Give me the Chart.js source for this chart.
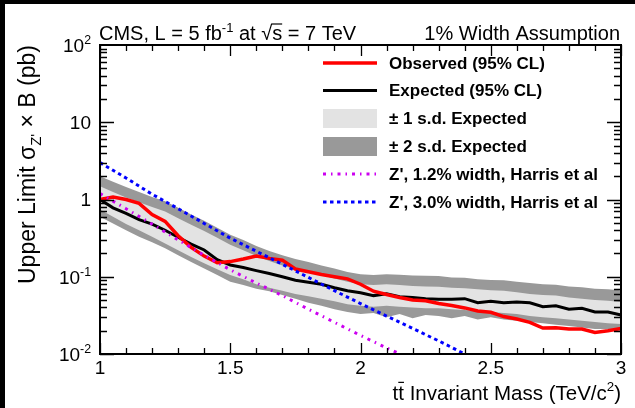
<!DOCTYPE html>
<html>
<head>
<meta charset="utf-8">
<script src="https://cdn.jsdelivr.net/npm/chart.js@4.4.1/dist/chart.umd.min.js"></script>
<style>
  html, body { margin: 0; padding: 0; background: #fff; }
  canvas { display: block; }
</style>
</head>
<body>
<canvas id="c" width="635" height="408"></canvas>
<script>
// Resonance mass points (TeV/c^2)
const massPoints = [1.00, 1.05, 1.10, 1.15, 1.20, 1.25, 1.30, 1.35, 1.40, 1.45,
                    1.50, 1.55, 1.60, 1.65, 1.70, 1.75, 1.80, 1.85, 1.90, 1.95,
                    2.00, 2.05, 2.10, 2.15, 2.20, 2.25, 2.30, 2.35, 2.40, 2.45,
                    2.50, 2.55, 2.60, 2.65, 2.70, 2.75, 2.80, 2.85, 2.90, 2.95, 3.00];

// 95% CL upper limits on sigma x B (pb)
const observed = [1.0, 1.08, 1.0, 0.89, 0.64, 0.52, 0.34, 0.24, 0.185, 0.152,
                  0.157, 0.17, 0.186, 0.173, 0.164, 0.126, 0.116, 0.107, 0.100, 0.094,
                  0.080, 0.065, 0.059, 0.054, 0.050, 0.049, 0.045, 0.0425, 0.0395, 0.036,
                  0.0347, 0.0305, 0.0284, 0.0257, 0.0217, 0.0219, 0.021, 0.021, 0.019, 0.020, 0.0214];
const expected = [1.0, 0.78, 0.66, 0.55, 0.48, 0.40, 0.325, 0.265, 0.222, 0.166,
                  0.142, 0.132, 0.120, 0.110, 0.100, 0.090, 0.085, 0.080, 0.072, 0.066,
                  0.062, 0.057, 0.060, 0.055, 0.054, 0.052, 0.051, 0.051, 0.052, 0.046,
                  0.048, 0.046, 0.047, 0.046, 0.041, 0.042, 0.038, 0.039, 0.035, 0.035, 0.032];

// Expected-limit bands
const plus2 = [2.0, 1.70, 1.45, 1.25, 1.08, 0.95, 0.78, 0.64, 0.53, 0.43,
               0.35, 0.30, 0.25, 0.215, 0.19, 0.17, 0.155, 0.14, 0.128, 0.115,
               0.108, 0.105, 0.108, 0.106, 0.104, 0.103, 0.102, 0.098, 0.097, 0.093,
               0.091, 0.090, 0.086, 0.083, 0.080, 0.079, 0.075, 0.073, 0.070, 0.069, 0.067];
const plus1 = [1.48, 1.25, 1.06, 0.92, 0.80, 0.70, 0.57, 0.47, 0.39, 0.32,
               0.26, 0.22, 0.185, 0.160, 0.14, 0.125, 0.115, 0.105, 0.095, 0.086,
               0.080, 0.078, 0.080, 0.078, 0.076, 0.075, 0.074, 0.072, 0.071, 0.069,
               0.067, 0.066, 0.063, 0.060, 0.058, 0.057, 0.054, 0.052, 0.050, 0.049, 0.047];
const minus1 = [0.74, 0.60, 0.48, 0.40, 0.33, 0.27, 0.22, 0.18, 0.15, 0.125,
                0.105, 0.093, 0.080, 0.072, 0.066, 0.060, 0.056, 0.052, 0.048, 0.044,
                0.042, 0.041, 0.042, 0.041, 0.040, 0.039, 0.039, 0.038, 0.037, 0.036,
                0.035, 0.034, 0.033, 0.031, 0.030, 0.029, 0.028, 0.027, 0.026, 0.025, 0.0245];
const minus2 = [0.60, 0.49, 0.40, 0.33, 0.28, 0.233, 0.19, 0.155, 0.128, 0.105,
                0.086, 0.078, 0.070, 0.065, 0.058, 0.052, 0.046, 0.042, 0.038, 0.035,
                0.033, 0.034, 0.030, 0.033, 0.029, 0.032, 0.031, 0.029, 0.031, 0.028,
                0.030, 0.028, 0.027, 0.026, 0.025, 0.024, 0.023, 0.022, 0.021, 0.021, 0.020];

// Theory curves (Harris et al)
const theoryMass = [1.0, 1.1, 1.2, 1.3, 1.4, 1.5, 1.6, 1.7, 1.8, 1.9, 2.0, 2.1, 2.2, 2.3, 2.4, 2.5];
const zprime12 = [1.19, 0.76, 0.48, 0.30, 0.19, 0.123, 0.083, 0.057, 0.038, 0.0257, 0.0174, 0.012, 0.0085, null, null, null];
const zprime30 = [3.0, 1.9, 1.17, 0.76, 0.49, 0.316, 0.214, 0.145, 0.098, 0.066, 0.045, 0.031, 0.0214, 0.0148, 0.0100, 0.0069];

// Axis ticks
const xMajorTicks = [1, 1.5, 2, 2.5, 3];
const xTickLabels = ['1', '1.5', '2', '2.5', '3'];
const yMajorTicks = [0.01, 0.1, 1, 10, 100];
const yTickLabels = [['10', '-2'], ['10', '-1'], ['1', ''], ['10', ''], ['10', '2']];

const legendLabels = ['Observed (95% CL)', 'Expected (95% CL)', '\u00b1 1 s.d. Expected',
                      '\u00b1 2 s.d. Expected', "Z', 1.2% width, Harris et al", "Z', 3.0% width, Harris et al"];

const COL_OBS = '#ff0000', COL_EXP = '#000000', COL_1SD = '#e3e3e3', COL_2SD = '#999999';
const COL_Z12 = '#cc00f0', COL_Z30 = '#0000ff';
const DASH_Z12 = [3, 5, 1.5, 5], DASH_Z30 = [3.5, 3.5];

const FAMILY = '"Liberation Sans", Arial, Helvetica, sans-serif';
const fontOf = (size, bold) => (bold ? 'bold ' : '') + size + 'px ' + FAMILY;

const pts = (xs, ys) => xs.map((x, i) => ({ x: x, y: ys[i] }));

// Text with superscripts, subscripts and overbars
function richWidth(ctx, parts, size, bold) {
  let w = 0;
  for (const p of parts) {
    ctx.font = fontOf((p.sup || p.sub) ? size * 0.65 : size, bold);
    w += ctx.measureText(p.t).width;
  }
  return w;
}
function richDraw(ctx, parts, x, y, size, bold, align) {
  const w = richWidth(ctx, parts, size, bold);
  let cx = align === 'right' ? x - w : (align === 'center' ? x - w / 2 : x);
  ctx.textAlign = 'left';
  ctx.textBaseline = 'alphabetic';
  ctx.fillStyle = '#000';
  for (const p of parts) {
    const s = (p.sup || p.sub) ? size * 0.65 : size;
    const dy = p.sup ? -size * 0.42 : (p.sub ? size * 0.25 : 0);
    ctx.font = fontOf(s, bold);
    ctx.fillText(p.t, cx, y + dy);
    const pw = ctx.measureText(p.t).width;
    if (p.over) {
      ctx.save();
      ctx.strokeStyle = '#000';
      ctx.lineWidth = 1.2;
      ctx.beginPath();
      ctx.moveTo(cx - (p.overLead || 0), y - size * p.over);
      ctx.lineTo(cx + pw, y - size * p.over);
      ctx.stroke();
      ctx.restore();
    }
    cx += pw;
  }
}

const decorations = {
  id: 'decorations',
  beforeDraw(chart) {
    const ctx = chart.ctx;
    ctx.save();
    ctx.fillStyle = '#fff';
    ctx.fillRect(0, 0, chart.width, chart.height);
    ctx.fillStyle = '#000';
    ctx.fillRect(0, 0, chart.width, 4);
    ctx.fillRect(0, 0, 5, chart.height);
    ctx.restore();
  },
  afterDatasetsDraw(chart) {
    const ctx = chart.ctx;
    const a = chart.chartArea;
    const xs = chart.scales.x, ys = chart.scales.y;
    ctx.save();
    ctx.strokeStyle = '#000';
    ctx.lineWidth = 1.3;
    ctx.beginPath();
    // y ticks, left and right, major and minor
    for (let d = 0.01; d < 99; d *= 10) {
      for (let k = 1; k <= 9; k++) {
        const v = d * k;
        const py = Math.round(ys.getPixelForValue(v)) + 0.5;
        const len = k === 1 ? 14 : 7;
        ctx.moveTo(a.left, py); ctx.lineTo(a.left + len, py);
        ctx.moveTo(a.right, py); ctx.lineTo(a.right - len, py);
      }
    }
    // x ticks, bottom and top
    for (let i = 0; i <= 20; i++) {
      const v = 1 + i * 0.1;
      const px = Math.round(xs.getPixelForValue(v)) + 0.5;
      const len = (i % 5 === 0) ? 11 : 6;
      ctx.moveTo(px, a.bottom); ctx.lineTo(px, a.bottom - len);
      ctx.moveTo(px, a.top); ctx.lineTo(px, a.top + len);
    }
    ctx.stroke();
    // frame
    ctx.lineWidth = 2;
    ctx.strokeRect(a.left, a.top, a.right - a.left, a.bottom - a.top);

    // legend
    const lx0 = 323, lx1 = 377, tx = 389;
    const rows = [63, 90.5, 118.5, 146.5, 174, 202];
    ctx.lineCap = 'butt';
    ctx.setLineDash([]);
    ctx.lineWidth = 3.5; ctx.strokeStyle = COL_OBS;
    ctx.beginPath(); ctx.moveTo(lx0, rows[0]); ctx.lineTo(lx1, rows[0]); ctx.stroke();
    ctx.lineWidth = 3; ctx.strokeStyle = COL_EXP;
    ctx.beginPath(); ctx.moveTo(lx0, rows[1]); ctx.lineTo(lx1, rows[1]); ctx.stroke();
    ctx.fillStyle = COL_1SD; ctx.fillRect(lx0, rows[2] - 9.5, lx1 - lx0, 19);
    ctx.fillStyle = COL_2SD; ctx.fillRect(lx0, rows[3] - 9.5, lx1 - lx0, 19);
    ctx.lineWidth = 3; ctx.strokeStyle = COL_Z12; ctx.setLineDash(DASH_Z12);
    ctx.beginPath(); ctx.moveTo(lx0, rows[4]); ctx.lineTo(lx1, rows[4]); ctx.stroke();
    ctx.strokeStyle = COL_Z30; ctx.setLineDash(DASH_Z30);
    ctx.beginPath(); ctx.moveTo(lx0, rows[5]); ctx.lineTo(lx1, rows[5]); ctx.stroke();
    ctx.setLineDash([]);
    ctx.fillStyle = '#000';
    ctx.font = fontOf(17, true);
    ctx.textAlign = 'left';
    ctx.textBaseline = 'middle';
    legendLabels.forEach((t, i) => ctx.fillText(t, tx, rows[i] + 1));
    ctx.restore();
  },
  afterDraw(chart) {
    const ctx = chart.ctx;
    const xs = chart.scales.x, ys = chart.scales.y;
    ctx.save();
    // y tick labels
    yMajorTicks.forEach((v, i) => {
      const py = ys.getPixelForValue(v);
      const parts = [{ t: yTickLabels[i][0] }];
      if (yTickLabels[i][1]) parts.push({ t: yTickLabels[i][1], sup: true });
      richDraw(ctx, parts, 91, py + 6.8, 19, false, 'right');
    });
    // x tick labels
    xMajorTicks.forEach((v, i) => {
      const px = xs.getPixelForValue(v);
      richDraw(ctx, [{ t: xTickLabels[i] }], px, 374, 19, false, 'center');
    });
    // header texts
    richDraw(ctx, [{ t: 'CMS, L = 5 fb' }, { t: '-1', sup: true }, { t: ' at ' },
                   { t: '\u221a' }, { t: 's', over: 0.80, overLead: 1 }, { t: ' = 7 TeV' }],
             99, 40, 20, false, 'left');
    richDraw(ctx, [{ t: '1% Width Assumption' }], 620, 40, 20, false, 'right');
    // x axis title
    richDraw(ctx, [{ t: 't' }, { t: 't', over: 0.86 }, { t: ' Invariant Mass (TeV/c' },
                   { t: '2', sup: true }, { t: ')' }], 621, 400, 20.5, false, 'right');
    // y axis title
    ctx.translate(35, 45);
    ctx.rotate(-Math.PI / 2);
    richDraw(ctx, [{ t: 'Upper Limit \u03c3' }, { t: "Z'", sub: true }, { t: ' \u00d7 B (pb)' }],
             0, 0, 23, false, 'right');
    ctx.restore();
  }
};

const lineBase = { pointRadius: 0, tension: 0, fill: false, clip: 1 };

new Chart(document.getElementById('c'), {
  type: 'line',
  data: {
    datasets: [
      Object.assign({}, lineBase, { label: legendLabels[5], data: pts(theoryMass, zprime30),
        borderColor: COL_Z30, borderWidth: 3, borderDash: DASH_Z30 }),
      Object.assign({}, lineBase, { label: legendLabels[4], data: pts(theoryMass, zprime12),
        borderColor: COL_Z12, borderWidth: 3, borderDash: DASH_Z12 }),
      Object.assign({}, lineBase, { label: legendLabels[0], data: pts(massPoints, observed),
        borderColor: COL_OBS, borderWidth: 3.5 }),
      Object.assign({}, lineBase, { label: legendLabels[1], data: pts(massPoints, expected),
        borderColor: COL_EXP, borderWidth: 3 }),
      Object.assign({}, lineBase, { label: '+1 s.d.', data: pts(massPoints, plus1),
        borderColor: 'rgba(0,0,0,0)', borderWidth: 0, backgroundColor: COL_1SD, fill: '+1' }),
      Object.assign({}, lineBase, { label: '-1 s.d.', data: pts(massPoints, minus1),
        borderColor: 'rgba(0,0,0,0)', borderWidth: 0 }),
      Object.assign({}, lineBase, { label: '+2 s.d.', data: pts(massPoints, plus2),
        borderColor: 'rgba(0,0,0,0)', borderWidth: 0, backgroundColor: COL_2SD, fill: '+1' }),
      Object.assign({}, lineBase, { label: '-2 s.d.', data: pts(massPoints, minus2),
        borderColor: 'rgba(0,0,0,0)', borderWidth: 0 })
    ]
  },
  options: {
    responsive: false,
    animation: false,
    devicePixelRatio: 1,
    layout: { padding: { left: 100, right: 14, top: 45, bottom: 54 } },
    scales: {
      x: { type: 'linear', min: 1, max: 3, display: false },
      y: { type: 'logarithmic', min: 0.01, max: 100, display: false }
    },
    plugins: {
      legend: { display: false },
      tooltip: { enabled: false },
      filler: { propagate: false }
    }
  },
  plugins: [decorations]
});
</script>
</body>
</html>
